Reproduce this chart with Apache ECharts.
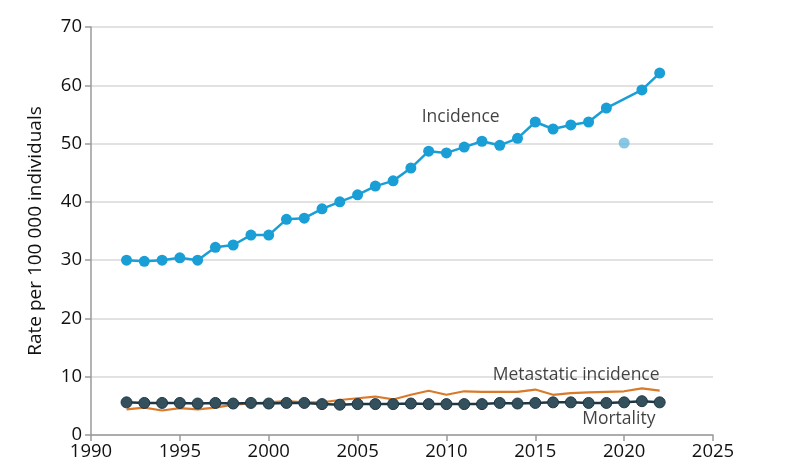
<!DOCTYPE html>
<html>
<head>
<meta charset="utf-8">
<script src="https://cdn.jsdelivr.net/npm/echarts@6/dist/echarts.min.js"></script>
<style>html,body{margin:0;padding:0;background:#fff}#c{width:800px;height:475px}</style>
</head>
<body>
<div id="c"></div>
<script>
var years = [1992,1993,1994,1995,1996,1997,1998,1999,2000,2001,2002,2003,2004,2005,2006,2007,2008,2009,2010,2011,2012,2013,2014,2015,2016,2017,2018,2019,2020,2021,2022];
var incidence = [30.0,29.8,30.0,30.4,30.0,32.2,32.6,34.3,34.3,37.0,37.2,38.8,40.0,41.2,42.7,43.6,45.8,48.7,48.4,49.4,50.4,49.7,50.9,53.7,52.5,53.2,53.7,56.1,null,59.2,62.1];
var incidence2020 = [[2020, 50.1]];
var metastatic = [4.4,4.7,4.2,4.6,4.4,4.7,5.2,5.4,5.6,5.8,5.6,5.6,6.0,6.3,6.6,6.1,6.9,7.6,6.9,7.5,7.4,7.4,7.4,7.8,6.9,7.2,7.3,7.4,7.5,8.0,7.6];
var mortality = [5.6,5.5,5.5,5.5,5.4,5.5,5.4,5.5,5.4,5.5,5.5,5.3,5.2,5.3,5.3,5.3,5.4,5.3,5.3,5.3,5.3,5.5,5.4,5.5,5.6,5.6,5.5,5.5,5.6,5.8,5.6];
var labels = [
  {text:'Incidence', coord:[2010.8, 54.5]},
  {text:'Metastatic incidence', coord:[2017.3, 10.3]},
  {text:'Mortality', coord:[2019.7, 2.7]}
];
function pairs(v){ return years.map(function(y,i){ return [y, v[i]]; }); }
var FONT = 'Open Sans';
var TXT = '#111';
var chart = echarts.init(document.getElementById('c'));
chart.setOption({
  animation:false,
  textStyle:{fontFamily:FONT},
  grid:{left:91, right:87, top:27, bottom:40},
  xAxis:{type:'value', min:1990, max:2025, interval:5,
    axisLine:{show:true, lineStyle:{color:'#9a9a9a', width:1.5}},
    axisTick:{show:true, length:6, lineStyle:{color:'#9a9a9a', width:1.5}},
    axisLabel:{color:TXT, fontSize:18.5, margin:7, fontFamily:FONT, formatter:function(v){return String(v);}},
    splitLine:{show:false}},
  yAxis:{type:'value', min:0, max:70, interval:10,
    name:'Rate per 100 000 individuals', nameLocation:'middle', nameGap:46,
    nameTextStyle:{color:TXT, fontSize:19, fontFamily:FONT},
    axisLine:{show:true, lineStyle:{color:'#9a9a9a', width:1.5}},
    axisTick:{show:true, length:6, lineStyle:{color:'#9a9a9a', width:1.5}},
    axisLabel:{color:TXT, fontSize:18.5, margin:9, fontFamily:FONT},
    splitLine:{show:true, lineStyle:{color:'#d9d9d9', width:1.5}}},
  series:[
    {type:'line', name:'Metastatic incidence', data:pairs(metastatic), showSymbol:false, symbol:'none',
      lineStyle:{color:'#d97a2b', width:2.2}, z:2},
    {type:'line', name:'Mortality', data:pairs(mortality), symbol:'circle', symbolSize:11,
      lineStyle:{color:'#1f3744', width:2.5},
      itemStyle:{color:'#34505c', borderColor:'#1f3744', borderWidth:1}, z:3},
    {type:'line', name:'Incidence', data:pairs(incidence), connectNulls:true, symbol:'circle', symbolSize:11,
      lineStyle:{color:'#1a9ed6', width:2.5},
      itemStyle:{color:'#1a9ed6'}, z:4},
    {type:'scatter', name:'Incidence 2020', data:incidence2020, symbolSize:11,
      itemStyle:{color:'#6db9de'}, z:4},
    {type:'scatter', name:'labels', data:labels.map(function(l){return {value:l.coord, name:l.text};}),
      symbolSize:0, silent:true,
      label:{show:true, position:'inside', formatter:function(p){return p.name;}, color:TXT, fontSize:17.5, fontFamily:FONT}, z:5}
  ]
});
</script>
</body>
</html>
